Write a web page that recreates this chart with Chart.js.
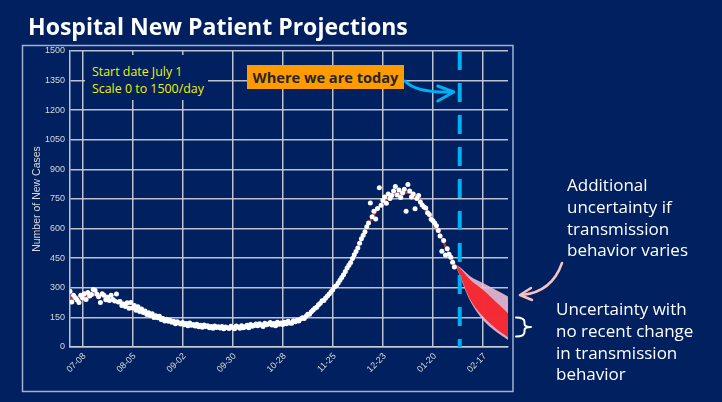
<!DOCTYPE html>
<html><head><meta charset="utf-8">
<script src="https://cdn.jsdelivr.net/npm/chart.js@4/dist/chart.umd.min.js"></script>
<style>
html,body{margin:0;padding:0;background:#002060;}
#wrap{position:relative;width:722px;height:402px;overflow:hidden;background:#002060;}
#c{position:absolute;left:0;top:0;}
.t{position:absolute;white-space:nowrap;}
#title{left:28px;top:10px;font-family:"Open Sans";font-weight:bold;font-size:24px;line-height:32px;color:#fff;}
#note{left:85px;top:55px;width:123px;height:45px;box-sizing:border-box;padding:8px 0 0 7px;background:#002060;color:#F2F200;font-family:"Open Sans";font-size:12.4px;line-height:17px;}
#today{left:247px;top:65px;width:157px;height:24px;background:#FF9A00;color:#262626;font-family:"Open Sans";font-weight:bold;font-size:14.6px;line-height:24px;text-align:center;}
#add{left:567px;top:174px;color:#fff;font-family:"Open Sans";font-size:17px;line-height:21.8px;}
#unc{left:556px;top:298px;color:#fff;font-family:"Open Sans";font-size:17px;line-height:21.8px;}
</style>
</head><body>
<div id="wrap">
<canvas id="c" width="722" height="402"></canvas>
<div class="t" id="title">Hospital New Patient Projections</div>
<div class="t" id="note">Start date July 1<br>Scale 0 to 1500/day</div>
<div class="t" id="today">Where we are today</div>
<div class="t" id="add">Additional<br>uncertainty if<br>transmission<br>behavior varies</div>
<div class="t" id="unc">Uncertainty with<br>no recent change<br>in transmission<br>behavior</div>
</div>
<script>
// ---- data (day 0 = July 1) ----
const tickDays = [7, 35, 63, 91, 119, 147, 175, 203, 231];
const tickLabels = ['07-08','08-05','09-02','09-30','10-28','11-25','12-23','01-20','02-17'];
const yTicksMax = 1500;
const yStep = 150;
const lastDay = 245;
const todayDay = 218;

// daily observed new cases, days 0..215
const observedCases = [
283,228,262,250,238,226,262,
248,270,241,276,258,266,292,
287,268,255,226,270,262,240,
252,236,262,241,233,268,228,
230,210,218,205,224,196,225,
198,210,186,204,180,192,175,
182,165,174,160,168,150,158,
148,156,139,145,132,141,130,
136,126,131,118,128,122,116,
124,113,119,108,121,110,114,
106,115,103,110,100,112,104,
108,98,104,95,106,99,102,
96,104,92,101,98,94,105,
99,92,106,101,95,108,98,
103,110,98,114,105,109,116,
108,118,112,104,120,113,116,
124,112,119,108,126,115,121,
114,126,118,131,122,120,133,
128,136,132,142,148,144,156,
166,166,178,188,196,202,214,
222,234,236,248,258,268,280,
290,305,310,324,338,352,366,
382,400,414,428,448,468,484,
502,526,548,566,584,610,628,
730,660,688,649,702,807,718,
742,760,728,775,752,768,790,
813,770,795,758,780,800,688,
823,790,760,775,700,752,768,
735,720,710,705,680,672,648,
640,628,615,590,562,485,540,
466,498,470,455,430,405
];

// model fit
const fitDays  = [0,7,14,21,28,35,42,49,56,63,70,77,84,91,98,105,112,119,126,133,140,147,154,161,168,175,182,189,195,200,205,210,216];
const fitCases = [245,255,262,248,222,200,178,150,132,120,110,105,100,100,105,112,118,120,130,165,220,292,385,505,640,730,775,782,750,690,610,510,408];

// projections
const projDays   = [216, 218, 224, 231, 238, 245];
const innerUpper = [416, 400, 340, 290, 230, 171];
const innerLower = [404, 365, 239, 154, 95, 49];
const outerUpper = [416, 405, 357, 324, 290, 256];
const outerLower = [404, 360, 230, 137, 80, 36];

// ---- styles ----
const NAVY = '#002060';
const GRID = 'rgba(200,202,212,0.95)';
const TICK = '#D9D9D9';
const RED = 'rgba(246,32,42,0.93)';
const PINK = 'rgba(236,186,212,0.9)';

const pts = (xs, ys) => xs.map((x, i) => ({x, y: ys[i]}));

const decor = {
  id: 'decor',
  beforeDraw(chart) {
    const c = chart.ctx;
    c.save();
    c.fillStyle = NAVY;
    c.fillRect(0, 0, chart.width, chart.height);
    c.strokeStyle = '#A3B1CC';
    c.lineWidth = 1.5;
    c.strokeRect(22.5, 45.5, 490.5, 346);
    c.restore();
  },
  afterDraw(chart) {
    const c = chart.ctx;
    const xs = chart.scales.x;
    const tx = xs.getPixelForValue(todayDay) - 6;
    c.save();
    c.lineCap = 'round';
    c.lineJoin = 'round';
    // blue arrow
    c.strokeStyle = '#00B0F0';
    c.lineWidth = 3;
    c.beginPath();
    c.moveTo(405, 81);
    c.quadraticCurveTo(416, 93, tx - 2, 92);
    c.stroke();
    c.beginPath();
    c.moveTo(tx - 16, 86);
    c.lineTo(tx, 92);
    c.lineTo(tx - 16, 101);
    c.stroke();
    // pink arrow
    c.strokeStyle = '#F6C2C0';
    c.lineWidth = 2.5;
    c.beginPath();
    c.moveTo(562, 263);
    c.quadraticCurveTo(552, 292, 522, 295);
    c.stroke();
    c.beginPath();
    c.moveTo(531, 288);
    c.lineTo(520, 295);
    c.lineTo(532, 300);
    c.stroke();
    // bracket
    c.strokeStyle = '#FFFFFF';
    c.lineWidth = 2;
    c.beginPath();
    c.moveTo(516, 317.5);
    c.quadraticCurveTo(524.5, 317.5, 524.5, 322);
    c.lineTo(524.5, 324);
    c.quadraticCurveTo(524.5, 327, 531, 327);
    c.moveTo(531, 327);
    c.quadraticCurveTo(524.5, 327, 524.5, 330);
    c.lineTo(524.5, 332);
    c.quadraticCurveTo(524.5, 336.5, 516, 336.5);
    c.stroke();
    c.restore();
  }
};

new Chart(document.getElementById('c'), {
  type: 'line',
  data: {
    datasets: [
      { label: 'Observed', data: observedCases.map((v, i) => ({x: i, y: v})), showLine: false,
        pointRadius: 2.5, pointBackgroundColor: '#FFFFFF', pointBorderWidth: 0, order: 0 },
      { label: 'Fit', data: pts(fitDays, fitCases), borderColor: '#F0262E', borderWidth: 2,
        pointRadius: 0, cubicInterpolationMode: 'monotone', fill: false, order: 1 },
      { label: 'Today', data: [{x: todayDay, y: yTicksMax}, {x: todayDay, y: 0}], borderColor: '#00B0F0',
        borderWidth: 4, borderDash: [19, 13], pointRadius: 0, fill: false, order: 2 },
      { label: 'Inner upper', data: pts(projDays, innerUpper), borderWidth: 0, borderColor: 'rgba(0,0,0,0)',
        backgroundColor: RED, pointRadius: 0, fill: '+1', cubicInterpolationMode: 'monotone', order: 3 },
      { label: 'Inner lower', data: pts(projDays, innerLower), borderWidth: 0, borderColor: 'rgba(0,0,0,0)',
        pointRadius: 0, fill: false, cubicInterpolationMode: 'monotone', order: 4 },
      { label: 'Outer upper', data: pts(projDays, outerUpper), borderWidth: 0, borderColor: 'rgba(0,0,0,0)',
        backgroundColor: PINK, pointRadius: 0, fill: '+1', cubicInterpolationMode: 'monotone', order: 5 },
      { label: 'Outer lower', data: pts(projDays, outerLower), borderWidth: 0, borderColor: 'rgba(0,0,0,0)',
        pointRadius: 0, fill: false, cubicInterpolationMode: 'monotone', order: 6 }
    ]
  },
  options: {
    responsive: false,
    animation: false,
    devicePixelRatio: 1,
    layout: { padding: { left: 0, top: 51, right: 214, bottom: 0 } },
    plugins: { legend: { display: false }, tooltip: { enabled: false } },
    scales: {
      x: {
        type: 'linear', min: 0, max: lastDay,
        afterBuildTicks: s => { s.ticks = tickDays.map(v => ({value: v})); },
        afterFit: s => { s.height = 55; },
        ticks: { autoSkip: false, maxRotation: 45, minRotation: 45, color: TICK, padding: 4, labelOffset: 2,
          font: { family: 'Liberation Sans', size: 9 },
          callback: v => tickLabels[tickDays.indexOf(v)] },
        grid: { color: GRID, lineWidth: 1.5, drawTicks: false },
        border: { color: GRID, width: 1.5 }
      },
      y: {
        min: 0, max: yTicksMax,
        afterFit: s => { s.width = 70; },
        ticks: { stepSize: yStep, color: TICK, padding: 5, font: { family: 'Liberation Sans', size: 9 },
          callback: v => String(v) },
        grid: { color: GRID, lineWidth: 1.5, drawTicks: false },
        border: { color: GRID, width: 1.5 },
        title: { display: true, text: 'Number of New Cases', color: TICK,
          font: { family: 'Liberation Sans', size: 10.5 }, padding: { top: 31, bottom: 0 } }
      }
    }
  },
  plugins: [decor]
});

// fit title width to reference (~380px)
const t = document.getElementById('title');
const w = t.getBoundingClientRect().width;
t.style.fontSize = (24 * 380 / w).toFixed(2) + 'px';
</script>
</body></html>
